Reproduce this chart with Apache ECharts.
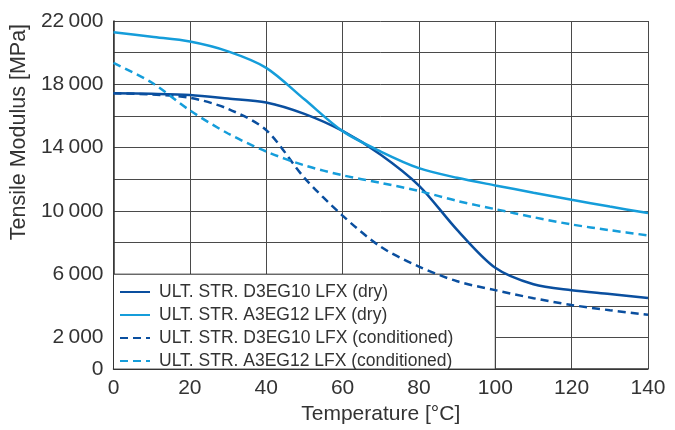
<!DOCTYPE html>
<html>
<head>
<meta charset="utf-8">
<script src="https://cdn.jsdelivr.net/npm/echarts@6/dist/echarts.min.js"></script>
<style>
  html, body { margin: 0; padding: 0; background: #fff; }
  #chart { width: 675px; height: 430px; }
</style>
</head>
<body>
<div id="chart"></div>
<script>
  // temperatures [°C]
  var temps = [0, 10, 20, 30, 40, 50, 60, 70, 80, 90, 100, 110, 120, 130, 140];
  // tensile modulus [MPa]
  var d3Dry = [17440, 17400, 17320, 17100, 16850, 16130, 15050, 13550, 11600, 8800, 6400, 5360, 4990, 4750, 4500];
  var a3Dry = [21290, 21000, 20700, 20080, 19040, 17050, 15040, 13750, 12700, 12090, 11610, 11150, 10700, 10270, 9860];
  var d3Cond = [17440, 17350, 17150, 16450, 15100, 12090, 9700, 7730, 6480, 5550, 4990, 4480, 4050, 3720, 3430];
  var a3Cond = [19350, 18110, 16350, 14890, 13750, 12880, 12250, 11770, 11260, 10630, 10110, 9600, 9140, 8780, 8450];
  var seriesNames = [
    'ULT. STR. D3EG10 LFX (dry)',
    'ULT. STR. A3EG12 LFX (dry)',
    'ULT. STR. D3EG10 LFX (conditioned)',
    'ULT. STR. A3EG12 LFX (conditioned)'
  ];
  // y tick labels that are shown
  var yLabels = [0, 2000, 6000, 10000, 14000, 18000, 22000];

  var darkBlue = '#0a4f9f';
  var lightBlue = '#159dda';
  var font = 'Liberation Sans';
  var textColor = '#333';

  function pairs(vals) {
    return temps.map(function (t, i) { return [t, vals[i]]; });
  }

  function fmt(v) {
    if (v < 1000) return String(v);
    return Math.floor(v / 1000) + '\u2009000';
  }

  function line(name, vals, color, dashed) {
    return {
      name: name,
      type: 'line',
      data: pairs(vals),
      smooth: 0.3,
      showSymbol: false,
      symbol: 'none',
      lineStyle: { color: color, width: 2.5, type: dashed ? [8, 5] : 'solid' },
      itemStyle: { color: color }
    };
  }

  var myChart = echarts.init(document.getElementById('chart'));
  myChart.setOption({
    animation: false,
    textStyle: { fontFamily: font },
    grid: { left: 112, right: 27, top: 21, bottom: 56 },
    xAxis: {
      type: 'value',
      min: 0, max: 140, interval: 20,
      name: 'Temperature [°C]',
      nameLocation: 'middle',
      nameGap: 31,
      nameTextStyle: { color: textColor, fontSize: 21, fontFamily: font },
      axisLine: { show: true, lineStyle: { color: '#333', width: 1.5 } },
      axisTick: { show: false },
      axisLabel: { color: textColor, fontSize: 21, fontFamily: font, margin: 9 },
      splitLine: { show: true, lineStyle: { color: '#4a4a4a', width: 1 } }
    },
    yAxis: {
      type: 'value',
      min: 0, max: 22000, interval: 2000,
      name: 'Tensile Modulus [MPa]',
      nameLocation: 'middle',
      nameGap: 68,
      nameTextStyle: { color: textColor, fontSize: 21.5, fontFamily: font, padding: [0, 0, 0, 126] },
      axisLine: { show: true, lineStyle: { color: '#333', width: 1.5 } },
      axisTick: { show: false },
      axisLabel: {
        color: textColor, fontSize: 21, fontFamily: font, margin: 10,
        formatter: function (v) { return yLabels.indexOf(v) >= 0 ? fmt(v) : ''; }
      },
      splitLine: { show: true, lineStyle: { color: '#4a4a4a', width: 1 } }
    },
    legend: {
      orient: 'vertical',
      left: 119,
      top: 283,
      padding: 0,
      itemWidth: 30,
      itemHeight: 10,
      itemGap: 5,
      z: 10,
      data: seriesNames,
      itemStyle: { opacity: 0 },
      textStyle: { color: textColor, fontSize: 17.5, fontFamily: font, lineHeight: 18, padding: [0, 0, 0, 4] }
    },
    series: [
      line(seriesNames[0], d3Dry, darkBlue, false),
      line(seriesNames[1], a3Dry, lightBlue, false),
      line(seriesNames[2], d3Cond, darkBlue, true),
      line(seriesNames[3], a3Cond, lightBlue, true)
    ]
  });

  // white legend box sitting in the lower-left grid cells
  var p0 = myChart.convertToPixel({ gridIndex: 0 }, [0, 6000]);
  var p1 = myChart.convertToPixel({ gridIndex: 0 }, [100, 0]);
  myChart.setOption({
    graphic: [{
      type: 'rect',
      z: 1,
      shape: { x: p0[0], y: p0[1], width: p1[0] - p0[0], height: p1[1] - p0[1] },
      style: { fill: '#fff', stroke: '#333', lineWidth: 1 }
    }]
  });
  window.addEventListener('resize', myChart.resize);
</script>
</body>
</html>
